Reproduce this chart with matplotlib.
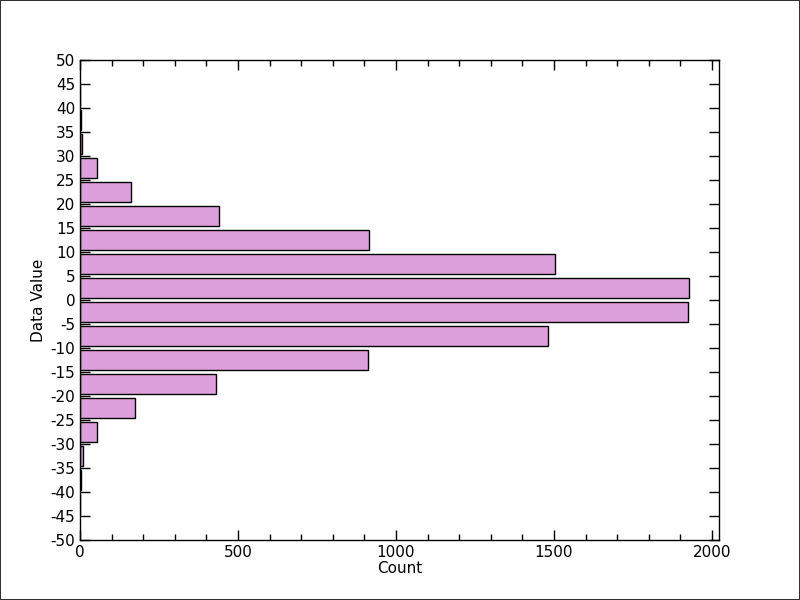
import matplotlib
matplotlib.use("Agg")
import matplotlib.pyplot as plt
from matplotlib.ticker import MultipleLocator

bin_lefts = [-45, -40, -35, -30, -25, -20, -15, -10, -5, 0, 5, 10, 15, 20, 25, 30, 35, 40]
counts = [1, 3, 8, 54, 175, 431, 912, 1480, 1923, 1927, 1502, 915, 439, 161, 53, 6, 2, 1]
bin_width = 5

plt.rcParams['font.family'] = ['DejaVu Sans']
plt.rcParams['axes.unicode_minus'] = False
fig = plt.figure(figsize=(8, 6), dpi=100)
fig.patch.set_edgecolor('#333333')
fig.patch.set_linewidth(1.2)
ax = fig.add_axes([0.1, 0.1, 0.799, 0.8])

centers = [b + bin_width / 2 for b in bin_lefts]
ax.barh(centers, counts, height=bin_width * 0.8, color='#DDA0DD',
        edgecolor='black', linewidth=1.0)

ax.set_xlim(0, 2023)
ax.set_ylim(-50, 50)
ax.xaxis.set_major_locator(MultipleLocator(500))
ax.xaxis.set_minor_locator(MultipleLocator(100))
ax.yaxis.set_major_locator(MultipleLocator(5))
ax.tick_params(axis='both', which='both', direction='in', top=True, right=True,
               labelsize=11, colors='black')
ax.tick_params(which='major', length=7, width=1)
ax.tick_params(which='minor', length=4, width=1)
for s in ax.spines.values():
    s.set_linewidth(1)
ax.set_xlabel('Count', fontsize=11, labelpad=1)
ax.set_ylabel('Data Value', fontsize=11, labelpad=3)

fig.savefig('out.png', dpi=100, edgecolor=fig.get_edgecolor())
